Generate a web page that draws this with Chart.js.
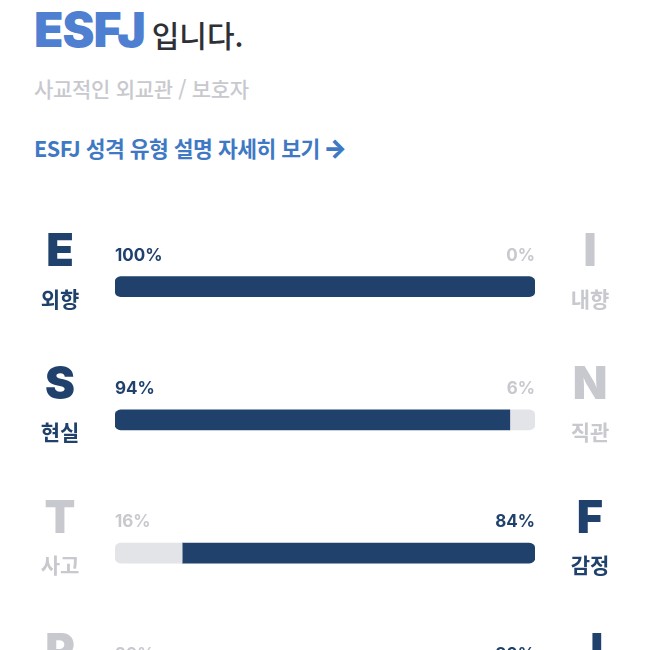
<!DOCTYPE html>
<html lang="ko">
<head>
<meta charset="utf-8">
<script src="https://cdn.jsdelivr.net/npm/chart.js@4/dist/chart.umd.min.js"></script>
<style>
  html, body { margin: 0; padding: 0; background: #fff; overflow: hidden; }
  body { width: 650px; height: 650px; position: relative; font-family: "Noto Sans CJK KR", "Noto Sans", sans-serif; }
  .title { position: absolute; left: 34px; top: 0px; white-space: nowrap; }
  .title .type { font-family: Inter, "Noto Sans CJK KR"; font-size: 48px; font-weight: 900; color: #4e7fd0; letter-spacing: -1px; }
  .title .rest { font-size: 30px; font-weight: 500; color: #2e3035; margin-left: 7px; }
  .sub { position: absolute; left: 34px; top: 73px; font-size: 21px; font-weight: 500; color: #c8c9ce; letter-spacing: -0.3px; }
  .link { position: absolute; left: 34px; top: 132px; font-size: 21.5px; font-weight: 700; color: #3f79c4; letter-spacing: -0.5px; white-space: nowrap; }
  .link b { font-family: Inter; font-weight: 900; font-size: 25px; line-height: 20px; margin-left: -2px; }
  #wrap { position: absolute; left: 0; top: 0; width: 650px; height: 760px; }
</style>
</head>
<body>
<div class="title"><span class="type">ESFJ</span><span class="rest">입니다.</span></div>
<div class="sub">사교적인 외교관 / 보호자</div>
<div class="link">ESFJ 성격 유형 설명 자세히 보기 <b>→</b></div>
<div id="wrap"><canvas id="chart"></canvas></div>

<script>
// 네 가지 지표 (왼쪽 / 오른쪽)
var leftLetters = ['E', 'S', 'T', 'P'];
var leftNames = ['외향', '현실', '사고', '인식'];
var rightLetters = ['I', 'N', 'F', 'J'];
var rightNames = ['내향', '직관', '감정', '판단'];
var leftValues = [100, 94, 16, 20];
var rightValues = [0, 6, 84, 80];

var NAVY = '#1f416c';
var GREY_BAR = '#e2e4e8';
var GREY_TEXT = '#c8c9ce';

function leftColor(i) { return leftValues[i] >= rightValues[i] ? NAVY : GREY_BAR; }
function rightColor(i) { return rightValues[i] > leftValues[i] ? NAVY : GREY_BAR; }

// 막대 양 끝만 둥글게
function radiusLeft(ctx) {
  var i = ctx.dataIndex;
  var r = 6;
  if (rightValues[i] == 0) return { topLeft: r, bottomLeft: r, topRight: r, bottomRight: r };
  return { topLeft: r, bottomLeft: r, topRight: 0, bottomRight: 0 };
}
function radiusRight(ctx) {
  var i = ctx.dataIndex;
  var r = 6;
  if (leftValues[i] == 0) return { topLeft: r, bottomLeft: r, topRight: r, bottomRight: r };
  return { topLeft: 0, bottomLeft: 0, topRight: r, bottomRight: r };
}

// 글자와 퍼센트 표시
var labelsPlugin = {
  id: 'rowLabels',
  afterDraw: function(chart) {
    var c = chart.ctx;
    var yScale = chart.scales.y;
    var area = chart.chartArea;
    c.save();
    for (var i = 0; i < leftLetters.length; i++) {
      var y = yScale.getPixelForValue(i);
      var leftWin = leftValues[i] >= rightValues[i];
      var lc = leftWin ? NAVY : GREY_TEXT;
      var rc = leftWin ? GREY_TEXT : NAVY;

      c.textAlign = 'center';
      c.textBaseline = 'middle';
      c.font = '900 45px Inter, "Noto Sans CJK KR"';
      c.fillStyle = lc;
      c.fillText(leftLetters[i], 60, y - 34);
      c.fillStyle = rc;
      c.fillText(rightLetters[i], 590, y - 34);

      c.font = '700 21px "Noto Sans CJK KR"';
      c.fillStyle = lc;
      c.fillText(leftNames[i], 60, y + 12);
      c.fillStyle = rc;
      c.fillText(rightNames[i], 590, y + 12);

      c.font = '700 17px Inter, "Noto Sans CJK KR"';
      c.textAlign = 'left';
      c.fillStyle = lc;
      c.fillText(leftValues[i] + '%', area.left, y - 31);
      c.textAlign = 'right';
      c.fillStyle = rc;
      c.fillText(rightValues[i] + '%', area.right, y - 31);
    }
    c.restore();
  }
};

var config = {
  type: 'bar',
  data: {
    labels: leftLetters,
    datasets: [
      {
        data: leftValues,
        backgroundColor: leftValues.map(function(v, i) { return leftColor(i); }),
        borderRadius: radiusLeft,
        borderSkipped: false,
        barThickness: 20
      },
      {
        data: rightValues,
        backgroundColor: rightValues.map(function(v, i) { return rightColor(i); }),
        borderRadius: radiusRight,
        borderSkipped: false,
        barThickness: 20
      }
    ]
  },
  options: {
    indexAxis: 'y',
    responsive: true,
    maintainAspectRatio: false,
    animation: false,
    layout: { padding: { left: 115, right: 115, top: 220, bottom: 7 } },
    scales: {
      x: { stacked: true, min: 0, max: 100, display: false },
      y: { stacked: true, display: false }
    },
    plugins: {
      legend: { display: false },
      tooltip: { enabled: false }
    }
  },
  plugins: [labelsPlugin]
};

var chart = new Chart(document.getElementById('chart').getContext('2d'), config);
</script>
</body>
</html>
